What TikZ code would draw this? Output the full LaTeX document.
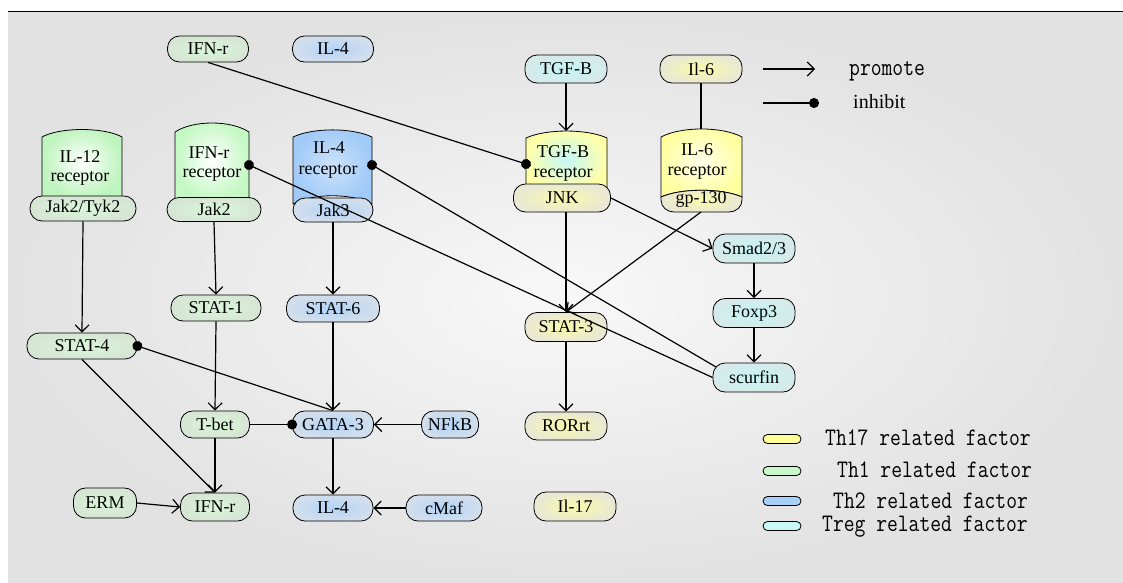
\documentclass[tikz,border=0pt]{standalone}
\usepackage{fontspec}
\setmainfont{Liberation Serif}
\usetikzlibrary{arrows.meta}
\definecolor{gIn}{RGB}{218,246,218}
\definecolor{gOut}{RGB}{214,230,212}
\definecolor{bIn}{RGB}{178,212,248}
\definecolor{bOut}{RGB}{210,222,236}
\definecolor{yIn}{RGB}{250,250,170}
\definecolor{yOut}{RGB}{232,232,212}
\definecolor{cIn}{RGB}{196,244,244}
\definecolor{cOut}{RGB}{214,234,234}
\definecolor{lgY}{RGB}{255,255,153}
\definecolor{lgG}{RGB}{200,248,200}
\definecolor{lgB}{RGB}{168,207,248}
\definecolor{lgC}{RGB}{200,248,248}
\begin{document}
\begin{tikzpicture}[x=1pt,y=-1pt,
  pill/.style={draw=black, line width=0.8pt, rounded corners=12pt, minimum height=27pt, inner sep=0pt, font=\fontsize{18}{20}\selectfont},
  th1/.style={pill, inner color=gIn, outer color=gOut},
  th2/.style={pill, inner color=bIn, outer color=bOut},
  th17/.style={pill, inner color=yIn, outer color=yOut},
  treg/.style={pill, inner color=cIn, outer color=cOut},
  rtext/.style={font=\fontsize{18}{20}\selectfont, inner sep=0pt},
  recep/.style={draw=black, line width=0.8pt},
  prom/.style={line width=1.2pt, -{Straight Barb[length=7pt,width=14pt]}},
  inh/.style={line width=1.2pt, -{Circle[length=10pt]}, shorten >=-5pt},
  plain/.style={line width=1.2pt},
  lgpill/.style={draw=black, line width=0.8pt, rounded corners=4.5pt, minimum width=38pt, minimum height=9pt, inner sep=0pt},
  lgtext/.style={anchor=west, inner sep=0pt, font=\ttfamily\fontsize{21}{22}\selectfont},
]
\useasboundingbox (0,0) rectangle (1123,582);
\fill[white] (0,0) rectangle (1123,582);
\shade[inner color={rgb,255:red,248;green,248;blue,248}, outer color={rgb,255:red,226;green,226;blue,226}] (8,11) rectangle (1123,582);
\draw[line width=1pt] (8,11) -- (1123,11);

% receptors
\shade[recep, inner color=white, outer color={rgb,255:red,190;green,244;blue,190}]
  (42,198) -- (42,137) .. controls (60,127) and (104,127) .. (122,137) -- (122,198) -- cycle;
\shade[recep, inner color=white, outer color={rgb,255:red,196;green,248;blue,196}]
  (175,200) -- (175,132) .. controls (193,120) and (231,120) .. (249,132) -- (249,200) -- cycle;
\shade[recep, inner color={rgb,255:red,205;green,226;blue,250}, outer color={rgb,255:red,160;green,202;blue,248}]
  (293,204) -- (293,137) .. controls (313,127.5) and (352,127.5) .. (372,137) -- (372,204) .. controls (352,193) and (313,193) .. (293,204) -- cycle;
\shade[recep, inner color={rgb,255:red,196;green,248;blue,248}, outer color={rgb,255:red,255;green,255;blue,168}]
  (526,190) -- (526,138) .. controls (546,128.7) and (587,128.7) .. (607,138) -- (607,190) -- cycle;
\shade[recep, inner color={rgb,255:red,255;green,255;blue,235}, outer color={rgb,255:red,255;green,255;blue,160}]
  (661,197) -- (661,137) .. controls (681,126.3) and (722,126.3) .. (742,137) -- (742,197) .. controls (722,188) and (681,188) .. (661,197) -- cycle;
\shade[recep, inner color=yIn, outer color=yOut]
  (661,197) .. controls (681,188) and (722,188) .. (742,197) -- (742,200) .. controls (742,207) and (736,212) .. (729,212) -- (674,212) .. controls (667,212) and (661,207) .. (661,200) -- cycle;

\node[rtext] (il12a) at (80,157) {IL-12};
\node[rtext] (il12b) at (80,178) {receptor};
\node[rtext] (ifnRa) at (209,153) {IFN-r};
\node[rtext] (ifnRb) at (212,174) {receptor};
\node[rtext] (il4Ra) at (329,148) {IL-4};
\node[rtext] (il4Rb) at (328,171) {receptor};
\node[rtext] (tgfRa) at (563,152) {TGF-B};
\node[rtext] (tgfRb) at (563,174) {receptor};
\node[rtext] (il6Ra) at (697,150) {IL-6};
\node[rtext] (il6Rb) at (697,172) {receptor};
\node[rtext] (gp130) at (701,199) {gp-130};

% pills
\node[th1, minimum width=81pt, minimum height=26pt] (ifnT) at (208,49) {IFN-r};
\node[th2, minimum width=81pt, minimum height=26pt] (il4T) at (333,49) {IL-4};
\node[treg, minimum width=82pt, minimum height=28pt] (tgfb) at (566,69) {TGF-B};
\node[th17, minimum width=82pt, minimum height=28pt] (il6) at (701,69) {Il-6};
\node[th1, minimum width=106pt, minimum height=25pt] (jak2tyk2) at (83,208.5) {Jak2/Tyk2};
\node[th1, minimum width=94pt, minimum height=24pt] (jak2) at (214,209.5) {Jak2};
\node[th2, minimum width=80pt, minimum height=24pt] (jak3) at (333,210) {Jak3};
\node[th17, minimum width=97pt, minimum height=28pt] (jnk) at (562,198) {JNK};
\node[th1, minimum width=90pt, minimum height=26pt] (stat1) at (216,308) {STAT-1};
\node[th2, minimum width=93pt, minimum height=27pt] (stat6) at (333,308.5) {STAT-6};
\node[th1, minimum width=110pt, minimum height=26pt] (stat4) at (82,346) {STAT-4};
\node[th17, minimum width=82pt, minimum height=29pt] (stat3) at (566,327) {STAT-3};
\node[treg, minimum width=82pt, minimum height=29pt] (smad) at (754,248.5) {Smad2/3};
\node[treg, minimum width=82pt, minimum height=29pt] (foxp3) at (754,313) {Foxp3};
\node[treg, minimum width=82pt, minimum height=29pt] (scurfin) at (754,377.5) {scurfin};
\node[th1, minimum width=69pt] (tbet) at (215,424.5) {T-bet};
\node[th2, minimum width=81pt] (gata3) at (333,424.5) {GATA-3};
\node[th2, minimum width=57pt] (nfkb) at (450,424.5) {NFkB};
\node[th17, minimum width=82pt, minimum height=28pt] (rorrt) at (566,426) {RORrt};
\node[th1, minimum width=63pt, minimum height=30pt] (erm) at (105,503) {ERM};
\node[th1, minimum width=69pt, minimum height=28pt] (ifnB) at (215,507) {IFN-r};
\node[th2, minimum width=80pt, minimum height=26pt] (il4B) at (333,508) {IL-4};
\node[th2, minimum width=76pt, minimum height=26pt] (cmaf) at (444,508) {cMaf};
\node[th17, minimum width=82pt, minimum height=29pt] (il17) at (575,506.5) {Il-17};

% named points on receptors
\coordinate (ifnRr) at (249,165);
\coordinate (il4Rr) at (372,165);
\coordinate (tgfRl) at (526,164);
\coordinate (tgfRtop) at (566,131);
\coordinate (il6Rtop) at (701,129);
\coordinate (gpB) at (701,212);
\coordinate (scA) at (716,367);

% connectors
\draw[prom] (tgfb.south) -- (tgfRtop);
\draw[plain] (il6.south) -- (il6Rtop);
\draw[inh] (ifnT.south) -- (tgfRl);
\draw[inh] (scurfin.west) -- (ifnRr);
\draw[inh] (scA) -- (il4Rr);
\draw[prom] (jnk.east) -- (smad.west);
\draw[prom] (gpB) -- (stat3.north);
\draw[prom] (jnk.south -| stat3.north) -- (stat3.north);
\draw[prom] (stat3.south) -- (rorrt.north);
\draw[prom] (smad.south) -- (foxp3.north);
\draw[prom] (foxp3.south) -- (scurfin.north);
\draw[prom] (jak2tyk2.south) -- (stat4.north);
\draw[prom] (jak2.south) -- (stat1.north);
\draw[prom] (jak3.south) -- (stat6.north);
\draw[prom] (stat1.south) -- (tbet.north);
\draw[prom] (stat6.south) -- (gata3.north);
\draw[inh] (gata3.north) -- (stat4.east);
\draw[prom] (stat4.south) -- (ifnB.north);
\draw[prom] (tbet.south) -- (ifnB.north);
\draw[inh] (tbet.east) -- (gata3.west);
\draw[prom] (nfkb.west) -- (gata3.east);
\draw[prom] (gata3.south) -- (il4B.north);
\draw[prom] (erm.east) -- (ifnB.west);
\draw[prom] (cmaf.west) -- (il4B.east);

% legend
\coordinate (lpA) at (763,69);
\coordinate (lpB) at (815,69);
\coordinate (liA) at (763,103);
\coordinate (liB) at (814,103);
\draw[prom] (lpA) -- (lpB);
\draw[inh] (liA) -- (liB);
\node[lgtext] (tpromote) at (849,71) {\scalebox{1}[1.2]{promote}};
\node[anchor=west, inner sep=0pt, font=\fontsize{20}{22}\selectfont] (tinhibit) at (853,102) {inhibit};

\node[lgpill, fill=lgY] (lg1) at (782,439) {};
\node[lgpill, fill=lgG] (lg2) at (782,471) {};
\node[lgpill, fill=lgB] (lg3) at (782,501) {};
\node[lgpill, fill=lgC] (lg4) at (782,526) {};
\node[lgtext] (lt1) at (825,438) {\scalebox{1}[1.2]{Th17 related factor}};
\node[lgtext] (lt2) at (837,470) {\scalebox{1}[1.2]{Th1 related factor}};
\node[lgtext] (lt3) at (833,501) {\scalebox{1}[1.2]{Th2 related factor}};
\node[lgtext] (lt4) at (822,527) {\scalebox{1}[1.2]{Treg related factor}};
\end{tikzpicture}
\end{document}
